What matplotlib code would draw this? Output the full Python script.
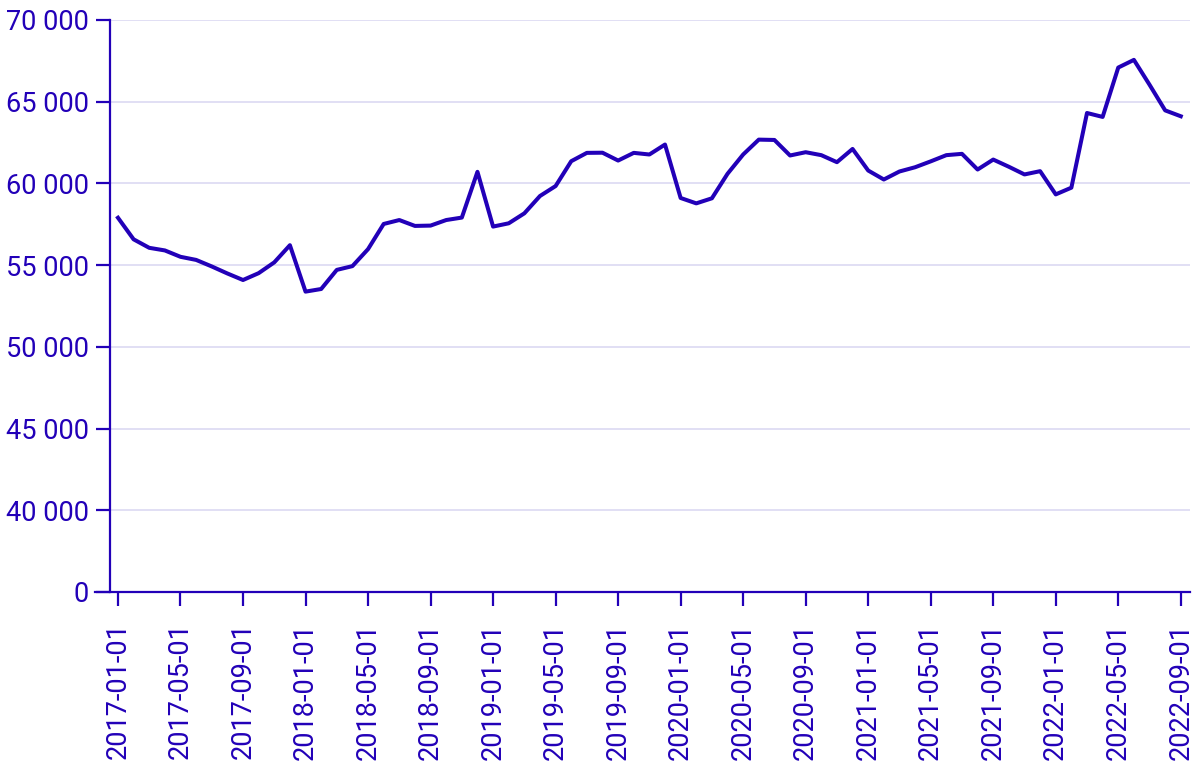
import numpy as np
import pandas as pd
import matplotlib
matplotlib.use("Agg")
import matplotlib.pyplot as plt
from matplotlib.ticker import FixedLocator, FuncFormatter

# --- Monthly values, 2017-01 .. 2022-09 ---
months = pd.date_range("2017-01-01", "2022-09-01", freq="MS")
values = [
    57900, 56580, 56060, 55900, 55510, 55320, 54920, 54490, 54090, 54510,
    55170, 56220, 53380, 53540, 54710, 54940, 55980, 57520, 57760, 57400,
    57420, 57760, 57910, 60710, 57360, 57560, 58170, 59230, 59840, 61360,
    61870, 61880, 61400, 61870, 61770, 62380, 59110, 58780, 59090, 60590,
    61770, 62680, 62660, 61710, 61910, 61730, 61300, 62110, 60790, 60240,
    60730, 60990, 61350, 61730, 61810, 60850, 61460, 61020, 60550, 60750,
    59330, 59740, 64310, 64070, 67090, 67560, 66040, 64470, 64110,
]
y_ticks = [35000, 40000, 45000, 50000, 55000, 60000, 65000, 70000]

color = "#2200b8"
grid_color = "#dcd9f2"

plt.rcParams["font.family"] = ["Roboto", "DejaVu Sans"]

x = np.arange(len(months))
tick_idx = x[::4]
tick_labels = [months[i].strftime("%Y-%m-%d") for i in tick_idx]

fig = plt.figure(figsize=(12, 7.73), dpi=100)
ax = fig.add_axes([95 / 1200, 1 - 592 / 773, 1095 / 1200, 572 / 773])

x_left, x_right = -1.47, 68.59
spine_x = -0.51
ax.set_xlim(x_left, x_right)
ax.set_ylim(35000, 70000)

# --- horizontal grid ---
ax.hlines(y_ticks[1:], spine_x, x_right, color=grid_color, lw=1.2, zorder=1)

ax.plot(x, values, color=color, lw=2.9, zorder=3)

for s in ["top", "right"]:
    ax.spines[s].set_visible(False)
ax.spines["left"].set_position(("data", spine_x))
for s in ["left", "bottom"]:
    ax.spines[s].set_color(color)
    ax.spines[s].set_linewidth(1.6)

ax.yaxis.set_major_locator(FixedLocator(y_ticks))
ax.yaxis.set_major_formatter(FuncFormatter(
    lambda v, p: "0" if v == 35000 else f"{int(v):,}".replace(",", " ")))
ax.set_xticks(tick_idx)
ax.set_xticklabels(tick_labels, rotation=90)

ax.tick_params(axis="both", colors=color, labelcolor=color, labelsize=19.5,
               length=10, width=1.6)
ax.tick_params(axis="y", pad=5)
ax.tick_params(axis="x", pad=12)

fig.savefig("out.png", dpi=100)
